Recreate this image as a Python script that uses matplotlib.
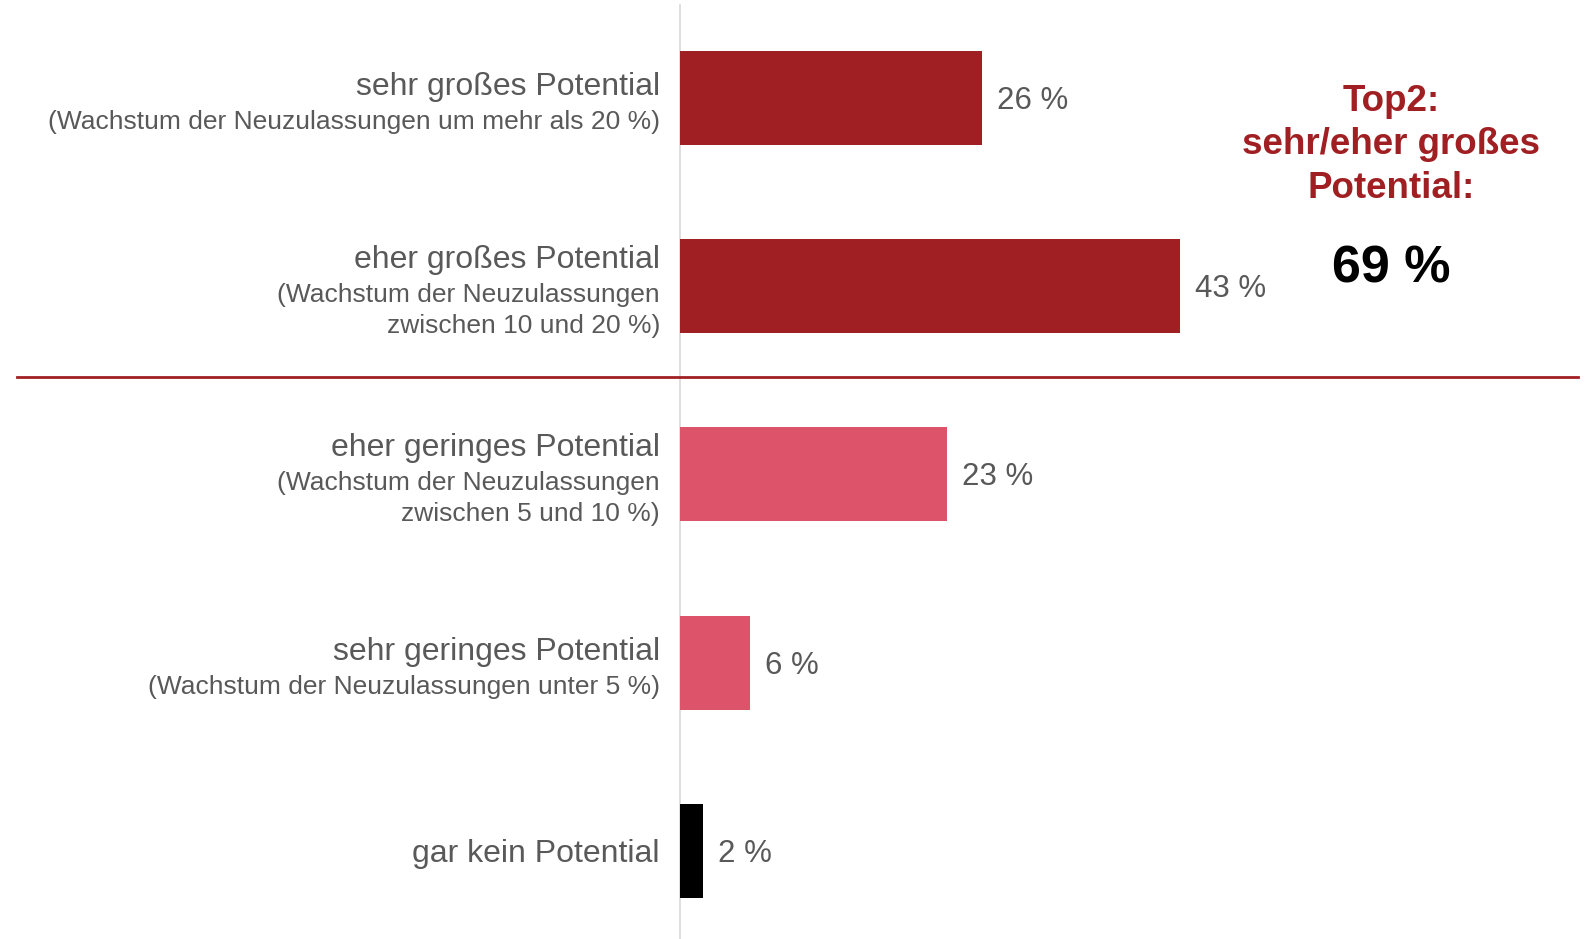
import matplotlib
matplotlib.use("Agg")
import matplotlib.pyplot as plt

plt.rcParams['font.family'] = ['Liberation Sans', 'DejaVu Sans']

# Data
main_labels = [
    "sehr großes Potential",
    "eher großes Potential",
    "eher geringes Potential",
    "sehr geringes Potential",
    "gar kein Potential",
]
sub_labels = [
    "(Wachstum der Neuzulassungen um mehr als 20 %)",
    "(Wachstum der Neuzulassungen\nzwischen 10 und 20 %)",
    "(Wachstum der Neuzulassungen\nzwischen 5 und 10 %)",
    "(Wachstum der Neuzulassungen unter 5 %)",
    "",
]
values = [26, 43, 23, 6, 2]
top2_value = 69

DARK_RED = "#A01F22"
PINK = "#DC536A"
BLACK = "#000000"
TEXT_GRAY = "#595959"
bar_colors = [DARK_RED, DARK_RED, PINK, PINK, BLACK]

W, H = 1591, 939
fig = plt.figure(figsize=(W / 100, H / 100), dpi=100)

# Axes spanning the figure; x=0 sits at the baseline of the bars
x0_px = 680
px_per_pct = 500 / 43
ax = fig.add_axes([x0_px / W, 0, 1 - x0_px / W, 1])
ax.set_xlim(0, (W - x0_px) / px_per_pct)
row_px = 188.2
top_px = 98
ax.set_ylim((H - top_px) / row_px, -top_px / row_px)
ax.axis("off")

ypos = list(range(len(values)))
ax.barh(ypos, values, height=0.5, color=bar_colors, zorder=3)

# Baseline (vertical) and separator between top two and rest
ax.plot([0, 0], [-(top_px - 5) / row_px, (H - top_px) / row_px],
        color="#D9D9D9", lw=1.2, zorder=2, clip_on=False)
sep_y = 1.485
ax.plot([-(x0_px - 17) / px_per_pct, (1578 - x0_px) / px_per_pct], [sep_y, sep_y],
        color=DARK_RED, lw=2.0, zorder=4, clip_on=False)

# Value labels
for y, v in zip(ypos, values):
    ax.annotate(f"{v} %", xy=(v, y), xytext=(15, -3), textcoords="offset pixels",
                ha="left", va="center", fontsize=22.5, color=TEXT_GRAY)

# Category labels, right-aligned left of the baseline
main_size = 23
sub_size = 19
for y, m, s in zip(ypos, main_labels, sub_labels):
    n_sub = len(s.split("\n")) if s else 0
    if n_sub == 0:
        ax.annotate(m, xy=(0, y), xytext=(-20, -3), textcoords="offset pixels",
                    ha="right", va="center", fontsize=main_size, color=TEXT_GRAY)
        continue
    if n_sub == 1:
        main_off, sub_off = 11, -24
    else:
        main_off, sub_off = 26, -24
    ax.annotate(m, xy=(0, y), xytext=(-20, main_off), textcoords="offset pixels",
                ha="right", va="center", fontsize=main_size, color=TEXT_GRAY)
    ax.annotate(s, xy=(0, y), xytext=(-20, sub_off), textcoords="offset pixels",
                ha="right", va="center", fontsize=sub_size, color=TEXT_GRAY,
                linespacing=1.37)

# Top2 summary
fig.text(1391 / W, 1 - 145 / H, "Top2:\nsehr/eher großes\nPotential:",
         ha="center", va="center", fontsize=26.5, fontweight="bold",
         color=DARK_RED, linespacing=1.32)
fig.text(1391 / W, 1 - 269 / H, f"{top2_value} %", ha="center", va="center",
         fontsize=37.5, fontweight="bold", color=BLACK)

fig.savefig("out.png", dpi=100, facecolor="white")
